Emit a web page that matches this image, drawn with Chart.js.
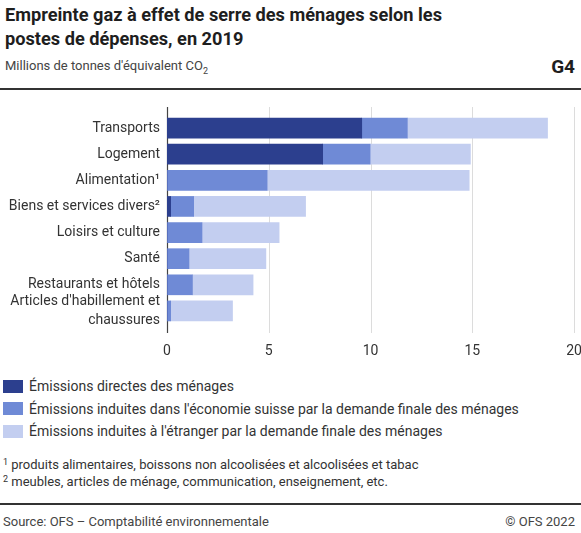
<!DOCTYPE html>
<html>
<head>
<meta charset="utf-8">
<script src="https://cdn.jsdelivr.net/npm/chart.js@4/dist/chart.umd.min.js"></script>
<style>
  body { margin: 0; width: 581px; height: 533px; position: relative; background: #fff; font-family: Roboto, sans-serif; color: #222; overflow: hidden; }
  .title { position: absolute; left: 5px; top: 3px; font-size: 18.2px; font-weight: 700; line-height: 24px; color: #1e1e1e; }
  .subtitle { position: absolute; left: 5px; top: 58px; font-size: 13px; color: #444; }
  .gnum { position: absolute; right: 6px; top: 55px; font-size: 19px; font-weight: 700; color: #1e1e1e; }
  .rule { position: absolute; left: 0; width: 581px; background: #333; }
  #chartBox { position: absolute; left: 0; top: 95px; width: 581px; height: 270px; }
  .legend { position: absolute; left: 3px; top: 375px; font-size: 14px; color: #333; }
  .legend div { height: 22.5px; display: flex; align-items: center; }
  .legend span.box { display: inline-block; width: 20px; height: 13px; margin-right: 6px; }
  .notes { position: absolute; left: 3px; top: 455px; font-size: 13px; color: #333; line-height: 15px; }
  .notes sup { font-size: 9px; vertical-align: 4px; }
  .footer { position: absolute; top: 514px; font-size: 13px; color: #444; }
</style>
</head>
<body>
<div class="title">Empreinte gaz à effet de serre des ménages selon les<br>postes de dépenses, en 2019</div>
<div class="subtitle">Millions de tonnes d'équivalent CO<sub style="font-size:9px">2</sub></div>
<div class="gnum">G4</div>
<div class="rule" style="top:88px;height:2px"></div>
<div id="chartBox"><canvas id="chart"></canvas></div>
<div class="legend" id="legend"></div>
<div class="notes">
  <div><sup>1</sup> produits alimentaires, boissons non alcoolisées et alcoolisées et tabac</div>
  <div><sup>2</sup> meubles, articles de ménage, communication, enseignement, etc.</div>
</div>
<div class="rule" style="top:503px;height:1.5px"></div>
<div class="footer" style="left:3px">Source: OFS – Comptabilité environnementale</div>
<div class="footer" style="right:6px">© OFS 2022</div>

<script>
// catégories et valeurs (millions de tonnes d'équivalent CO2)
const categories = [
    'Transports',
    'Logement',
    'Alimentation¹',
    'Biens et services divers²',
    'Loisirs et culture',
    'Santé',
    'Restaurants et hôtels',
    ["Articles d'habillement et", 'chaussures']
];
const directes = [9.57, 7.65, 0, 0.18, 0, 0, 0, 0];
const induitesSuisse = [2.24, 2.33, 4.92, 1.13, 1.72, 1.08, 1.25, 0.18];
const induitesEtranger = [6.89, 4.93, 9.93, 5.50, 3.79, 3.78, 2.98, 3.04];
const seriesLabels = [
    'Émissions directes des ménages',
    "Émissions induites dans l'économie suisse par la demande finale des ménages",
    "Émissions induites à l'étranger par la demande finale des ménages"
];
const seriesColors = ['#2c3f8e', '#6f8ad6', '#c3cef0'];
const xTicks = [0, 5, 10, 15, 20];

// lignes de grille qui dépassent un peu la zone du graphique
const gridPlugin = {
    id: 'gridExt',
    beforeDatasetsDraw(chart) {
        const ctx = chart.ctx;
        const area = chart.chartArea;
        const x = chart.scales.x;
        ctx.save();
        xTicks.forEach(v => {
            const px = Math.round(x.getPixelForValue(v)) + 0.5;
            ctx.beginPath();
            ctx.strokeStyle = v === 0 ? '#444' : '#dcdcdc';
            ctx.lineWidth = v === 0 ? 1.2 : 1;
            ctx.moveTo(px, area.top - 8);
            ctx.lineTo(px, area.bottom + 9);
            ctx.stroke();
        });
        ctx.restore();
    }
};

const datasets = [directes, induitesSuisse, induitesEtranger].map((d, i) => ({
    label: seriesLabels[i],
    data: d,
    backgroundColor: seriesColors[i],
    borderWidth: 0,
    barThickness: 20
}));

new Chart(document.getElementById('chart'), {
    type: 'bar',
    data: { labels: categories, datasets: datasets },
    plugins: [gridPlugin],
    options: {
        indexAxis: 'y',
        responsive: true,
        maintainAspectRatio: false,
        animation: false,
        layout: { padding: { top: 20, right: 7, left: 0, bottom: 0 } },
        plugins: { legend: { display: false }, tooltip: { enabled: false } },
        scales: {
            x: {
                stacked: true,
                min: 0,
                max: 20,
                afterBuildTicks: s => { s.ticks = xTicks.map(v => ({ value: v })); },
                afterFit: s => { s.height = 41; s.paddingLeft = 0; s.paddingRight = 0; },
                grid: { display: false, drawTicks: false },
                border: { display: false },
                ticks: { color: '#333', padding: 19, maxRotation: 0, font: { family: 'Roboto', size: 14 } }
            },
            y: {
                stacked: true,
                afterFit: s => { s.width = 167; s.paddingTop = 0; s.paddingBottom = 0; },
                grid: { display: false, drawTicks: false },
                border: { display: false },
                ticks: { color: '#333', padding: 7, autoSkip: false, font: { family: 'Roboto', size: 14, lineHeight: 1.35 } }
            }
        }
    }
});

// légende HTML
const legend = document.getElementById('legend');
seriesLabels.forEach((lab, i) => {
    const row = document.createElement('div');
    row.innerHTML = '<span class="box" style="background:' + seriesColors[i] + '"></span>' + lab;
    legend.appendChild(row);
});
</script>
</body>
</html>
